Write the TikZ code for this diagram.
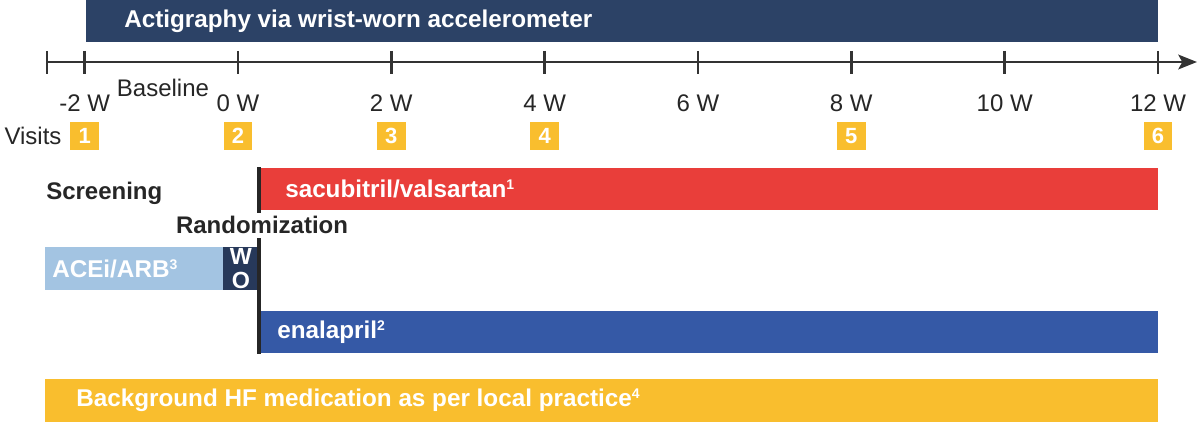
\documentclass[tikz,border=0pt]{standalone}
\usepackage{fontspec}
\setmainfont{Liberation Sans}
\usetikzlibrary{arrows.meta}
\definecolor{navy}{HTML}{2C4266}
\definecolor{wonavy}{HTML}{27395A}
\definecolor{redbar}{HTML}{E93E3A}
\definecolor{bluebar}{HTML}{3559A6}
\definecolor{lightblue}{HTML}{A3C4E2}
\definecolor{vyellow}{HTML}{F9BE2E}
\definecolor{txt}{HTML}{262626}
\definecolor{axis}{HTML}{333333}
\newcommand{\supnum}[1]{\raisebox{0.62ex}{\fontsize{10.5}{10.5}\selectfont #1}}
\begin{document}
\begin{tikzpicture}[x=0.75pt,y=-0.75pt,
  bar/.style={anchor=north west, inner sep=0pt, outer sep=0pt, draw=none},
  bartext/.style={anchor=west, text=white, font=\fontsize{18.2}{20}\selectfont\bfseries, inner sep=0pt},
  lbl/.style={text=txt, font=\fontsize{18}{20}\selectfont, inner sep=0pt},
  boldlbl/.style={text=txt, font=\fontsize{18}{20}\selectfont\bfseries, inner sep=0pt},
  visit/.style={fill=vyellow, text=white, font=\fontsize{16.5}{18}\selectfont\bfseries, minimum size=21.5pt, inner sep=0pt},
  tickmark/.style={line width=2.2pt, draw=axis},
  axisline/.style={line width=2.2pt, draw=axis},
  randline/.style={line width=3pt, draw=txt}]
\useasboundingbox (0,0) rectangle (1200,428);

% top actigraphy bar
\node[bar, fill=navy, minimum width=1072*0.75pt, minimum height=42*0.75pt] (acti) at (86,0) {};
\node[bartext] (actitext) at (124,21) {Actigraphy via wrist-worn accelerometer};

% axis
\coordinate (axL) at (47,62);
\coordinate (axR) at (1197,62);
\draw[axisline, -{Stealth[length=14pt,width=11pt,inset=3pt]}] (axL) -- (axR);
\draw[tickmark] (47,51) -- (47,74);
\foreach \x/\n/\t in {84.7/m2/-2 W, 238/w0/0 W, 391.3/w2/2 W, 544.7/w4/4 W, 698/w6/6 W, 851.3/w8/8 W, 1004.7/w10/10 W, 1158/w12/12 W}{
  \draw[tickmark] (\x,51) -- (\x,74);
  \node[lbl] (\n) at (\x,103) {\t};
}
\node[lbl] (baseline) at (163,88) {Baseline};

% visits
\node[lbl] (visits) at (33,136) {Visits};
\foreach \x/\n in {84.7/1, 238/2, 391.3/3, 544.7/4, 851.3/5, 1158/6}{
  \node[visit] (v\n) at (\x,136) {\n};
}

% labels
\node[boldlbl, anchor=west] (screening) at (46,193) {Screening};
\node[boldlbl] (random) at (262,225) {Randomization};

% sacubitril/valsartan
\node[bar, fill=redbar, minimum width=899*0.75pt, minimum height=42*0.75pt] (sv) at (259,168) {};
\node[bartext] (svtext) at (285,189) {sacubitril/valsartan\supnum{1}};

% ACEi/ARB + WO
\node[bar, fill=lightblue, minimum width=178*0.75pt, minimum height=43*0.75pt] (acei) at (45,247) {};
\node[bartext] (aceitext) at (52,268.5) {ACEi/ARB\supnum{3}};
\node[bar, fill=wonavy, minimum width=36*0.75pt, minimum height=43*0.75pt] (wo) at (223,247) {};
\node[text=white, font=\fontsize{17.5}{18}\selectfont\bfseries, align=center, inner sep=0pt] (wotext) at (wo.center) {W\\O};

% enalapril
\node[bar, fill=bluebar, minimum width=899*0.75pt, minimum height=42*0.75pt] (ena) at (259,311) {};
\node[bartext] (enatext) at (277,332) {enalapril\supnum{2}};

% randomization line
\coordinate (r1) at (259,167);
\coordinate (r2) at (259,213);
\coordinate (r3) at (259,238);
\coordinate (r4) at (259,354);
\draw[randline] (r1) -- (r2);
\draw[randline] (r3) -- (r4);

% background medication
\node[bar, fill=vyellow, minimum width=1113*0.75pt, minimum height=43*0.75pt] (bg) at (45,379) {};
\node[bartext] (bgtext) at (76,400.5) {Background HF medication as per local practice\supnum{4}};
\end{tikzpicture}
\end{document}
